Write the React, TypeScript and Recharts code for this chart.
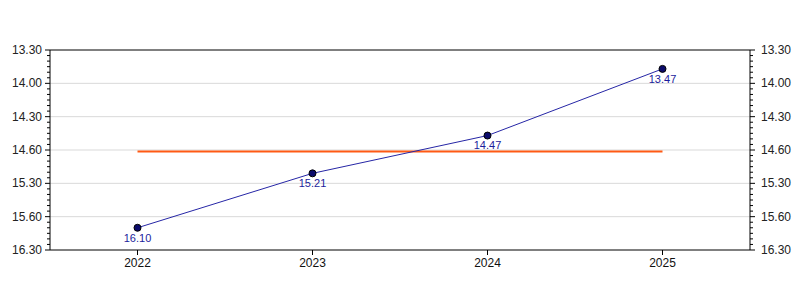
import React from "react";
import {
  LineChart,
  Line,
  XAxis,
  YAxis,
  ReferenceLine,
  LabelList,
} from "recharts";

// lap times as printed on the chart (minutes.seconds)
const years = ["2022", "2023", "2024", "2025"];
const times = ["16.10", "15.21", "14.47", "13.47"];

// y axis in seconds, labels exactly as drawn on the reference
const majorTicks = [810, 840, 870, 900, 930, 960, 990];
const majorLabels = ["13.30", "14.00", "14.30", "14.60", "15.30", "15.60", "16.30"];
const gridTicks = [840, 870, 900, 930, 960];

const toSeconds = (t: string) => {
  const [m, s] = t.split(".");
  return Number(m) * 60 + Number(s);
};

const seconds = times.map(toSeconds);
const average = seconds.reduce((a, b) => a + b, 0) / seconds.length;

const data = years.map((year, i) => ({
  year,
  sec: seconds[i],
  label: times[i],
  avg: average,
}));

// minor ticks every 5 s
const minorTicks: number[] = [];
for (let v = majorTicks[0]; v <= majorTicks[majorTicks.length - 1]; v += 5) {
  minorTicks.push(v);
}

const FONT = "'Liberation Sans', Arial, sans-serif";

function AxisTick(props: any) {
  const { x, y, payload, side } = props;
  const idx = majorTicks.indexOf(Number(payload.value));
  const dir = side === "left" ? -1 : 1;
  const len = idx >= 0 ? 5 : 3;
  return (
    <g>
      <line x1={x} x2={x + dir * len} y1={y} y2={y} stroke="#000" />
      {idx >= 0 && (
        <text
          x={x + dir * (side === "left" ? 8 : 11)}
          y={y + 4}
          textAnchor={side === "left" ? "end" : "start"}
          fontSize={12}
          fontFamily={FONT}
          fill="#222"
          stroke="none"
        >
          {majorLabels[idx]}
        </text>
      )}
    </g>
  );
}

export default function App() {
  return (
    <div style={{ position: "absolute", left: 0, top: 0, background: "#fff" }}>
      <LineChart
        width={800}
        height={300}
        data={data}
        margin={{ top: 50, right: 0, left: 0, bottom: 20 }}
      >
        <XAxis
          dataKey="year"
          padding={{ left: 87.5, right: 87.5 }}
          height={30}
          tickSize={5}
          tickMargin={3}
          stroke="#000"
          tick={{ fill: "#111", fontSize: 12, fontFamily: FONT }}
        />
        <YAxis
          yAxisId="left"
          type="number"
          domain={[810, 990]}
          reversed
          ticks={minorTicks}
          interval={0}
          width={50}
          tickSize={0}
          tickMargin={0}
          tickLine={false}
          stroke="#000"
          tick={<AxisTick side="left" />}
        />
        <YAxis
          yAxisId="right"
          orientation="right"
          type="number"
          domain={[810, 990]}
          reversed
          ticks={minorTicks}
          interval={0}
          width={50}
          tickSize={0}
          tickMargin={0}
          tickLine={false}
          stroke="#000"
          tick={<AxisTick side="right" />}
        />
        {gridTicks.map((v) => (
          <ReferenceLine key={v} yAxisId="left" y={v} stroke="#d9d9d9" />
        ))}
        <ReferenceLine yAxisId="left" y={810} stroke="#000" />
        <Line
          yAxisId="right"
          dataKey="avg"
          stroke="#ff5a14"
          strokeWidth={2}
          dot={false}
          isAnimationActive={false}
        />
        <Line
          yAxisId="left"
          dataKey="sec"
          stroke="#2626a6"
          strokeWidth={1}
          dot={{ r: 3.5, fill: "#0b0b6b", stroke: "#000", strokeWidth: 1 }}
          isAnimationActive={false}
        >
          <LabelList
            dataKey="label"
            position="bottom"
            offset={6}
            fill="#1c1c9c"
            fontSize={11}
            fontFamily={FONT}
          />
        </Line>
      </LineChart>
    </div>
  );
}
